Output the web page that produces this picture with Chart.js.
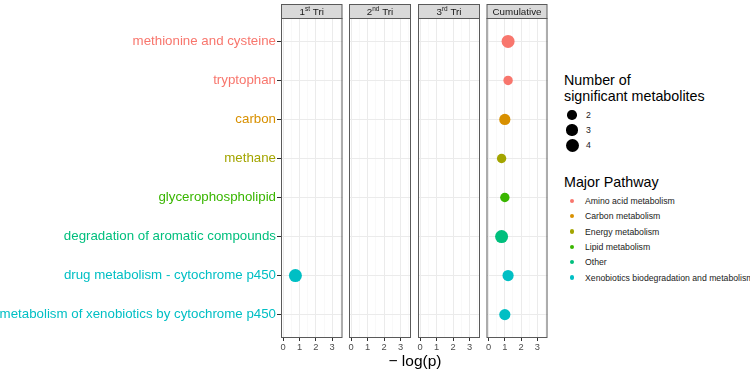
<!DOCTYPE html>
<html>
<head>
<meta charset="utf-8">
<script src="https://cdn.jsdelivr.net/npm/chart.js@4.4.1/dist/chart.umd.min.js"></script>
<style>
body { margin: 0; background: #fff; font-family: "Liberation Sans", Arial, sans-serif; }
#wrap { position: relative; width: 750px; height: 370px; overflow: hidden; }
#wrap canvas { position: absolute; top: 0; }
.txt { position: absolute; white-space: nowrap; color: #000; }
.axis-title { left: 365px; width: 100px; top: 352px; text-align: center; font-size: 15.5px; }
.leg-title { font-size: 14.3px; line-height: 16px; }
.leg-lab { font-size: 8.7px; color: #1a1a1a; line-height: 10px; }
.dot { position: absolute; border-radius: 50%; }
</style>
</head>
<body>
<div id="wrap">
  <canvas id="p0" width="349" height="370" style="left:0px"></canvas>
  <canvas id="p1" width="74" height="370" style="left:343px"></canvas>
  <canvas id="p2" width="74" height="370" style="left:412px"></canvas>
  <canvas id="p3" width="74" height="370" style="left:480px"></canvas>
  <div class="txt axis-title">&minus; log(p)</div>
  <div id="legend"></div>
</div>
<script>
// rows, top to bottom
var pathways = [
  'methionine and cysteine',
  'tryptophan',
  'carbon',
  'methane',
  'glycerophospholipid',
  'degradation of aromatic compounds',
  'drug metabolism - cytochrome p450',
  'metabolism of xenobiotics by cytochrome p450'
];
var pathwayGroup = [
  'Amino acid metabolism',
  'Amino acid metabolism',
  'Carbon metabolism',
  'Energy metabolism',
  'Lipid metabolism',
  'Other',
  'Xenobiotics biodegradation and metabolism',
  'Xenobiotics biodegradation and metabolism'
];
var groupNames = [
  'Amino acid metabolism',
  'Carbon metabolism',
  'Energy metabolism',
  'Lipid metabolism',
  'Other',
  'Xenobiotics biodegradation and metabolism'
];
var groupColors = ['#F8766D', '#D89000', '#A3A500', '#39B600', '#00BF7D', '#00BFC4'];
var countLevels = [2, 3, 4];

var facetMain = ['1', '2', '3', 'Cumulative'];
var facetSup = ['st', 'nd', 'rd', ''];
var facetRest = [' Tri', ' Tri', ' Tri', ''];

var tri1LogP  = [null, null, null, null, null, null, 0.75, null];
var tri1Count = [null, null, null, null, null, null, 4, null];
var tri2LogP  = [null, null, null, null, null, null, null, null];
var tri2Count = [null, null, null, null, null, null, null, null];
var tri3LogP  = [null, null, null, null, null, null, null, null];
var tri3Count = [null, null, null, null, null, null, null, null];
var cumLogP   = [1.2, 1.2, 1.0, 0.8, 1.0, 0.8, 1.2, 1.0];
var cumCount  = [4, 2, 3, 2, 2, 4, 3, 3];

var xTicks = [0, 1, 2, 3];
var xMinor = [0.5, 1.5, 2.5, 3.5];

var facetLogP = [tri1LogP, tri2LogP, tri3LogP, cumLogP];
var facetCount = [tri1Count, tri2Count, tri3Count, cumCount];

function sizeToRadius(n) {
  return 4.7 + (n - 2) * 0.9;
}
function colorOfRow(i) {
  return groupColors[groupNames.indexOf(pathwayGroup[i])];
}

var borderColor = '#5a5a5a';

var stripPlugin = {
  id: 'strip',
  afterDraw: function (chart, args, opts) {
    var ctx = chart.ctx, a = chart.chartArea;
    var k = opts.facet;
    ctx.save();
    // panel border
    ctx.strokeStyle = borderColor;
    ctx.lineWidth = 1;
    ctx.strokeRect(a.left + 0.5, a.top + 0.5, a.right - a.left - 1, a.bottom - a.top - 1);
    // strip
    var sTop = 4.5, sBot = a.top + 0.5;
    ctx.fillStyle = '#D9D9D9';
    ctx.fillRect(a.left + 0.5, sTop, a.right - a.left - 1, sBot - sTop);
    ctx.strokeRect(a.left + 0.5, sTop, a.right - a.left - 1, sBot - sTop);
    // label with superscript
    var main = facetMain[k], sup = facetSup[k], rest = facetRest[k];
    var fMain = '9.8px "Liberation Sans", Arial, sans-serif';
    var fSup = '6.5px "Liberation Sans", Arial, sans-serif';
    ctx.font = fMain;
    var w1 = ctx.measureText(main).width, w3 = ctx.measureText(rest).width;
    ctx.font = fSup;
    var w2 = ctx.measureText(sup).width;
    var x = (a.left + a.right) / 2 - (w1 + w2 + w3) / 2;
    var y = (sTop + sBot) / 2 + 0.5;
    ctx.fillStyle = '#1A1A1A';
    ctx.textBaseline = 'middle';
    ctx.textAlign = 'left';
    ctx.font = fMain;
    ctx.fillText(main, x, y);
    ctx.font = fSup;
    ctx.fillText(sup, x + w1, y - 3);
    ctx.font = fMain;
    ctx.fillText(rest, x + w1 + w2, y);
    ctx.restore();
  }
};

function makeChart(k) {
  var logP = facetLogP[k], counts = facetCount[k];
  var points = [];
  for (var i = 0; i < pathways.length; i++) {
    if (logP[i] !== null) points.push({ x: logP[i], y: i + 1, row: i, n: counts[i] });
  }
  var first = k === 0;
  return new Chart(document.getElementById('p' + k), {
    type: 'scatter',
    data: {
      datasets: [{
        data: points,
        pointRadius: function (c) { return c.raw ? sizeToRadius(c.raw.n) : 0; },
        pointHoverRadius: function (c) { return c.raw ? sizeToRadius(c.raw.n) : 0; },
        pointBackgroundColor: function (c) { return c.raw ? colorOfRow(c.raw.row) : '#000'; },
        pointBorderWidth: 0
      }]
    },
    options: {
      responsive: false,
      animation: false,
      events: [],
      layout: { padding: { left: first ? 0 : 6, right: 6, top: 18, bottom: 0 } },
      plugins: { legend: { display: false }, tooltip: { enabled: false }, strip: { facet: k } },
      scales: {
        x: {
          type: 'linear',
          position: 'bottom',
          min: -0.13,
          max: 3.63,
          afterBuildTicks: function (s) {
            s.ticks = xTicks.concat(xMinor).sort(function (a, b) { return a - b; })
              .map(function (v) { return { value: v }; });
          },
          afterFit: function (s) { s.height = 32; },
          border: { display: false },
          grid: {
            color: function (c) { return Number.isInteger(c.tick.value) ? '#EBEBEB' : '#F5F5F5'; },
            lineWidth: function (c) { return Number.isInteger(c.tick.value) ? 1 : 0.6; },
            tickColor: function (c) { return Number.isInteger(c.tick.value) ? '#333333' : 'rgba(0,0,0,0)'; },
            tickLength: 3
          },
          ticks: {
            autoSkip: false,
            maxRotation: 0,
            padding: 1,
            color: '#4D4D4D',
            font: { family: '"Liberation Sans", Arial, sans-serif', size: 9.3 },
            callback: function (v) { return Number.isInteger(v) ? String(v) : ''; }
          }
        },
        y: {
          type: 'linear',
          reverse: true,
          min: 0.4,
          max: 8.6,
          afterBuildTicks: function (s) {
            s.ticks = pathways.map(function (p, i) { return { value: i + 1 }; });
          },
          afterFit: function (s) { s.width = first ? 281 : 0; },
          border: { display: false },
          grid: {
            color: '#EBEBEB',
            lineWidth: 1,
            drawTicks: first,
            tickColor: '#333333',
            tickLength: 4
          },
          ticks: {
            display: first,
            autoSkip: false,
            padding: 1,
            font: { family: '"Liberation Sans", Arial, sans-serif', size: 13.3 },
            color: function (c) { return colorOfRow(c.index); },
            callback: function (v) { return pathways[v - 1]; }
          }
        }
      }
    },
    plugins: [stripPlugin]
  });
}

for (var k = 0; k < 4; k++) makeChart(k);

// legends
var leg = document.getElementById('legend');
function addText(cls, txt, x, y) {
  var d = document.createElement('div');
  d.className = 'txt ' + cls;
  d.textContent = txt;
  d.style.left = x + 'px';
  d.style.top = y + 'px';
  leg.appendChild(d);
}
function addDot(cx, cy, r, color) {
  var d = document.createElement('div');
  d.className = 'dot';
  d.style.left = (cx - r) + 'px';
  d.style.top = (cy - r) + 'px';
  d.style.width = (2 * r) + 'px';
  d.style.height = (2 * r) + 'px';
  d.style.background = color;
  leg.appendChild(d);
}
addText('leg-title', 'Number of', 564, 72);
addText('leg-title', 'significant metabolites', 564, 88);
countLevels.forEach(function (n, i) {
  var cy = 115 + i * 15;
  addDot(572, cy, sizeToRadius(n), '#000');
  addText('leg-lab', String(n), 586, cy - 5);
});
addText('leg-title', 'Major Pathway', 564, 174);
groupNames.forEach(function (g, i) {
  var cy = 201 + i * 15.3;
  addDot(572, cy, 2.2, groupColors[i]);
  addText('leg-lab', g, 585, cy - 5);
});
</script>
</body>
</html>
